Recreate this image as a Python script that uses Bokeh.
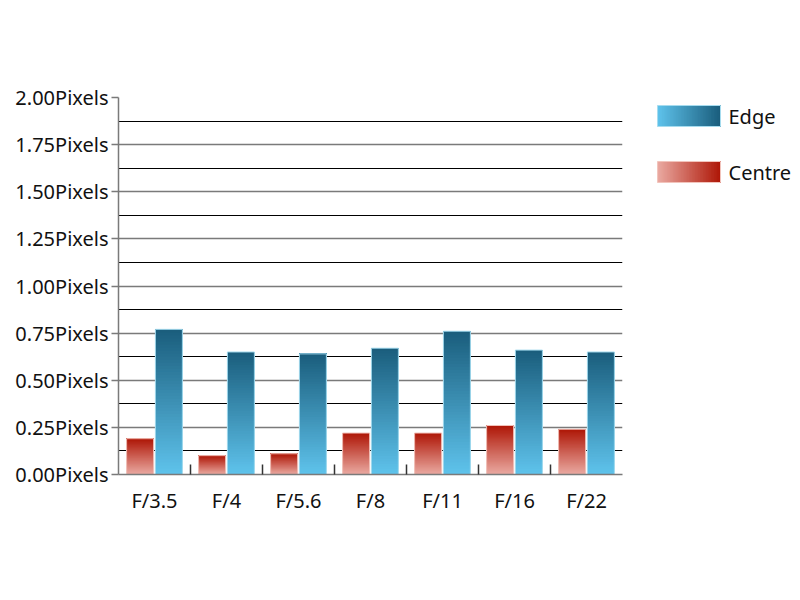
from bokeh.plotting import figure
from bokeh.layouts import row
from bokeh.models import Range1d, FixedTicker
from bokeh.core.properties import value
from bokeh.embed import file_html
from bokeh.resources import INLINE

categories = ["F/3.5", "F/4", "F/5.6", "F/8", "F/11", "F/16", "F/22"]
centre = [0.19, 0.10, 0.11, 0.22, 0.22, 0.26, 0.24]
edge = [0.77, 0.65, 0.64, 0.67, 0.76, 0.66, 0.65]
y_ticks = [0.0, 0.25, 0.5, 0.75, 1.0, 1.25, 1.5, 1.75, 2.0]
series_names = ["Edge", "Centre"]

FONT = "Noto Sans"
N = 48


def hex2rgb(h):
    h = h.lstrip("#")
    return tuple(int(h[i:i + 2], 16) for i in (0, 2, 4))


def lerp(c1, c2, t):
    a, b = hex2rgb(c1), hex2rgb(c2)
    return "#%02x%02x%02x" % tuple(int(round(a[i] + (b[i] - a[i]) * t)) for i in range(3))


EDGE_LO, EDGE_HI = "#5fc3ec", "#1a5d7c"
CEN_LO, CEN_HI = "#eaaaa2", "#ae1606"

p = figure(width=628, height=560, x_range=Range1d(0, 7), y_range=Range1d(0, 2.0),
           output_backend="svg", toolbar_location=None,
           min_border_left=118, min_border_right=6, min_border_top=97, min_border_bottom=86)
p.outline_line_color = None
p.background_fill_color = "white"

bw = 0.375
off = 0.2


def gradient_bars(vals, xoff, lo, hi, edge_col):
    l, r, b, t, c = [], [], [], [], []
    for i, v in enumerate(vals):
        x = i + 0.5 + xoff
        for k in range(N):
            l.append(x - bw / 2)
            r.append(x + bw / 2)
            b.append(v * k / N)
            t.append(v)
            c.append(lerp(lo, hi, (k + 0.5) / N))
    p.quad(left=l, right=r, bottom=b, top=t, fill_color=c, line_color=None)
    xs = [i + 0.5 + xoff for i in range(len(vals))]
    p.quad(left=[x - bw / 2 for x in xs], right=[x + bw / 2 for x in xs],
           bottom=[0] * len(vals), top=vals, fill_color=None,
           line_color=edge_col, line_width=1)


gradient_bars(centre, -off, CEN_LO, CEN_HI, "#f2c4bc")
gradient_bars(edge, off, EDGE_LO, EDGE_HI, "#a6dcef")

# grids
p.ygrid.ticker = FixedTicker(ticks=y_ticks, minor_ticks=[t + 0.125 for t in y_ticks[:-1]])
p.ygrid.grid_line_color = "#7a7a7a"
p.ygrid.grid_line_width = 1.5
p.ygrid.minor_grid_line_color = "#000000"
p.ygrid.minor_grid_line_width = 1
p.ygrid.level = "underlay"
p.xgrid.grid_line_color = None

# y axis
ya = p.yaxis[0]
ya.ticker = FixedTicker(ticks=y_ticks)
ya.major_label_overrides = {t: "%.2fPixels" % t for t in y_ticks}
ya.axis_line_color = "#7a7a7a"
ya.axis_line_width = 1.5
ya.major_tick_line_color = "#7a7a7a"
ya.major_tick_line_width = 1.5
ya.major_tick_out = 7
ya.major_tick_in = 0
ya.minor_tick_line_color = None
ya.major_label_standoff = 3
ya.major_label_text_font = FONT
ya.major_label_text_font_size = "20px"
ya.major_label_text_color = "#111111"

# x axis
xa = p.xaxis[0]
centers = [i + 0.5 for i in range(len(categories))]
xa.ticker = FixedTicker(ticks=centers, minor_ticks=[i for i in range(1, len(categories))])
xa.major_label_overrides = {c: lab for c, lab in zip(centers, categories)}
xa.axis_line_color = "#7a7a7a"
xa.axis_line_width = 1.5
xa.major_tick_line_color = None
xa.minor_tick_line_color = "#333333"
xa.minor_tick_line_width = 1.5
xa.minor_tick_in = 10
xa.minor_tick_out = 0
xa.major_label_standoff = 6
xa.major_label_text_font = FONT
xa.major_label_text_font_size = "20px"
xa.major_label_text_color = "#111111"

# legend panel (its frame is aligned with the main plot's frame: y 97..474)
lg = figure(width=170, height=560, x_range=Range1d(628, 798), y_range=Range1d(474, 97),
            output_backend="svg", toolbar_location=None,
            min_border_left=0, min_border_right=0, min_border_top=0, min_border_bottom=0)
lg.axis.visible = False
lg.grid.visible = False
lg.outline_line_color = None

leg_cols = [(EDGE_LO, EDGE_HI, "#a6dcef"), (CEN_LO, CEN_HI, "#f2c4bc")]
leg_y = [105, 161]
for name, (lo, hi, ec), y0 in zip(series_names, leg_cols, leg_y):
    M = 40
    x0, x1 = 657, 720
    lg.quad(left=[x0 + (x1 - x0) * k / M for k in range(M)],
            right=[x1] * M,
            top=[y0] * M, bottom=[y0 + 21] * M,
            fill_color=[lerp(lo, hi, (k + 0.5) / M) for k in range(M)], line_color=None)
    lg.quad(left=[x0], right=[x1], top=[y0], bottom=[y0 + 21], fill_color=None,
            line_color=ec, line_width=1)
    lg.text(x=[728], y=[y0 + 11], text=[name], text_font=value(FONT),
            text_font_size="20px", text_baseline="middle", text_align="left",
            text_color="#111111")

layout = row(p, lg)
open("out.html", "w").write(file_html(layout, INLINE))
